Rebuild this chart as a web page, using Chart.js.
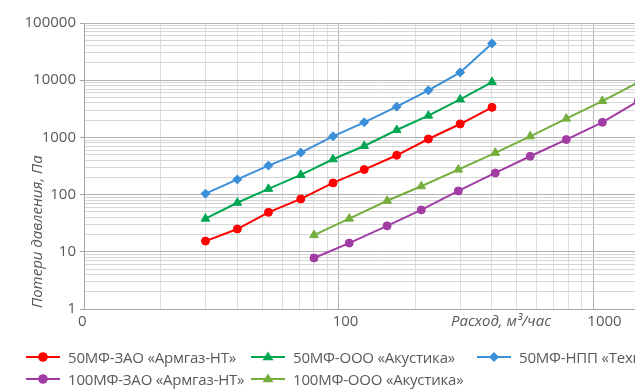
<!DOCTYPE html>
<html>
<head>
<meta charset="utf-8">
<script src="https://cdn.jsdelivr.net/npm/chart.js@4.4.1/dist/chart.umd.min.js"></script>
<style>
  html, body { margin: 0; padding: 0; overflow: hidden; background: #fff; }
  #wrap { position: relative; width: 720px; height: 390px; }
  #c { position: absolute; left: 0; top: 0; }
  #legend { position: absolute; left: 0; top: 0; width: 720px; height: 390px; pointer-events: none;
            font-family: 'Open Sans', sans-serif; font-size: 15px; letter-spacing: -0.2px; color: #595959; }
  .item { position: absolute; display: flex; align-items: center; white-space: nowrap; height: 20px; }
  .item svg { margin-right: 8px; flex: none; }
</style>
</head>
<body>
<div id="wrap">
  <canvas id="c" width="720" height="390"></canvas>
  <div id="legend"></div>
</div>
<script>
// Flow rate, m³/h
const flow50  = [30, 40, 53, 71, 95, 126, 169, 225, 300, 400];
const flow100 = [80, 110, 155, 211, 295, 412, 565, 783, 1085, 1500];

// Pressure loss, Pa
const loss50Armgaz    = [15.4, 25, 49, 84, 160, 274, 487, 938, 1714, 3350];
const loss50Akustika  = [38, 72, 126, 221, 415, 708, 1346, 2400, 4620, 9270];
const loss50Tekhno    = [104, 184, 322, 543, 1045, 1835, 3450, 6640, 13700, 43900];
const loss100Armgaz   = [7.8, 14.2, 28.4, 54, 116, 239, 468, 916, 1835, 4300];
const loss100Akustika = [19.6, 38, 78, 140, 274, 538, 1045, 2130, 4320, 9160];

const seriesNames = [
  '50МФ-ЗАО «Армгаз-НТ»',
  '50МФ-ООО «Акустика»',
  '50МФ-НПП «Техноконт»',
  '100МФ-ЗАО «Армгаз-НТ»',
  '100МФ-ООО «Акустика»'
];

const xTickLabels = { 10: '0', 100: '100', 1000: '1000' };
const yTickLabels = { 1: '1', 10: '10', 100: '100', 1000: '1000', 10000: '10000', 100000: '100000' };

const FONT = "'Open Sans', sans-serif";
const TEXT = '#595959';

// 1..9 × 10^k grid values between min and max
function logGrid(min, max) {
  const out = [];
  for (let e = Math.floor(Math.log10(min)); e <= Math.ceil(Math.log10(max)); e++) {
    for (let m = 1; m <= 9; m++) {
      const v = Math.round(m * Math.pow(10, e) * 1000) / 1000;
      if (v >= min && v <= max) out.push(v);
    }
  }
  return out;
}
const isDecade = v => Math.abs(Math.log10(v) - Math.round(Math.log10(v))) < 1e-9;

function pairs(xs, ys) { return xs.map((x, i) => ({ x, y: ys[i] })); }

const styles = [
  { color: '#ff0000', point: 'circle',   radius: 4 },
  { color: '#00a651', point: 'triangle', radius: 5 },
  { color: '#3b8fd9', point: 'rectRot',  radius: 4.5 },
  { color: '#a03ca3', point: 'circle',   radius: 4 },
  { color: '#74ae3d', point: 'triangle', radius: 5 }
];
const seriesData = [
  pairs(flow50, loss50Armgaz),
  pairs(flow50, loss50Akustika),
  pairs(flow50, loss50Tekhno),
  pairs(flow100, loss100Armgaz),
  pairs(flow100, loss100Akustika)
];

const datasets = seriesData.map((data, i) => ({
  label: seriesNames[i],
  data,
  showLine: true,
  borderColor: styles[i].color,
  backgroundColor: styles[i].color,
  borderWidth: 2,
  pointStyle: styles[i].point,
  pointRadius: styles[i].radius,
  pointBorderWidth: 1,
  tension: 0
}));

const axisTitles = {
  id: 'axisTitles',
  afterDraw(chart) {
    const { ctx, chartArea } = chart;
    ctx.save();
    ctx.fillStyle = TEXT;
    ctx.font = 'italic 15px ' + FONT;
    ctx.textBaseline = 'middle';
    ctx.textAlign = 'left';
    ctx.fillText('Расход, м³/час', 451, chartArea.bottom + 13);
    ctx.translate(38, chartArea.bottom - 1);
    ctx.rotate(-Math.PI / 2);
    ctx.fillText('Потери давления, Па', 0, 0);
    ctx.restore();
  }
};

const xGrid = logGrid(10, 2000);
const yGrid = logGrid(1, 100000);

const chart = new Chart(document.getElementById('c'), {
  type: 'scatter',
  data: { datasets },
  options: {
    responsive: false,
    animation: false,
    layout: { padding: { top: 23, right: 50, bottom: 0, left: 0 } },
    plugins: { legend: { display: false }, tooltip: { enabled: false } },
    scales: {
      x: {
        type: 'logarithmic',
        min: 10, max: 2000,
        afterBuildTicks: s => { s.ticks = xGrid.map(v => ({ value: v })); },
        afterFit: s => { s.height = 81; },
        border: { color: '#a6a6a6', width: 1 },
        grid: {
          drawTicks: false,
          color: c => (c.tick && isDecade(c.tick.value)) ? '#b4b4b4' : '#dedede',
          lineWidth: 1
        },
        ticks: {
          autoSkip: false, maxRotation: 0, minRotation: 0,
          align: 'start', labelOffset: -6, padding: 4,
          color: TEXT, font: { family: FONT, size: 15 },
          callback: v => xTickLabels[v] ?? ''
        }
      },
      y: {
        type: 'logarithmic',
        min: 1, max: 100000,
        afterBuildTicks: s => { s.ticks = yGrid.map(v => ({ value: v })); },
        afterFit: s => { s.width = 84; },
        border: { color: '#a6a6a6', width: 1 },
        grid: {
          tickLength: 4,
          color: c => (c.tick && isDecade(c.tick.value)) ? '#b4b4b4' : '#d6d6d6',
          tickColor: c => (c.tick && isDecade(c.tick.value)) ? '#a6a6a6' : 'rgba(0,0,0,0)',
          lineWidth: 1
        },
        ticks: {
          autoSkip: false, padding: 4,
          color: TEXT, font: { family: FONT, size: 15 },
          callback: v => yTickLabels[v] ?? ''
        }
      }
    }
  },
  plugins: [axisTitles]
});

// Legend built from the chart's datasets
function markerSvg(st) {
  const c = st.color;
  let shape = '';
  if (st.point === 'circle') {
    shape = `<circle cx="17" cy="10" r="4.8" fill="${c}"/>`;
  } else if (st.point === 'triangle') {
    shape = `<polygon points="17,4.5 22.5,13.2 11.5,13.2" fill="${c}"/>`;
  } else {
    shape = `<polygon points="17,5 22,10 17,15 12,10" fill="${c}"/>`;
  }
  return `<svg width="34" height="20" viewBox="0 0 34 20"><line x1="0" y1="10" x2="34" y2="10" stroke="${c}" stroke-width="2"/>${shape}</svg>`;
}
const legend = document.getElementById('legend');
const colLeft = [26, 251, 477];
const rowMid = [357, 379];
chart.data.datasets.forEach((ds, i) => {
  const el = document.createElement('div');
  el.className = 'item';
  el.style.left = colLeft[i % 3] + 'px';
  el.style.top = (rowMid[Math.floor(i / 3)] - 10) + 'px';
  el.innerHTML = markerSvg(styles[i]) + '<span></span>';
  el.querySelector('span').textContent = ds.label;
  legend.appendChild(el);
});
</script>
</body>
</html>
